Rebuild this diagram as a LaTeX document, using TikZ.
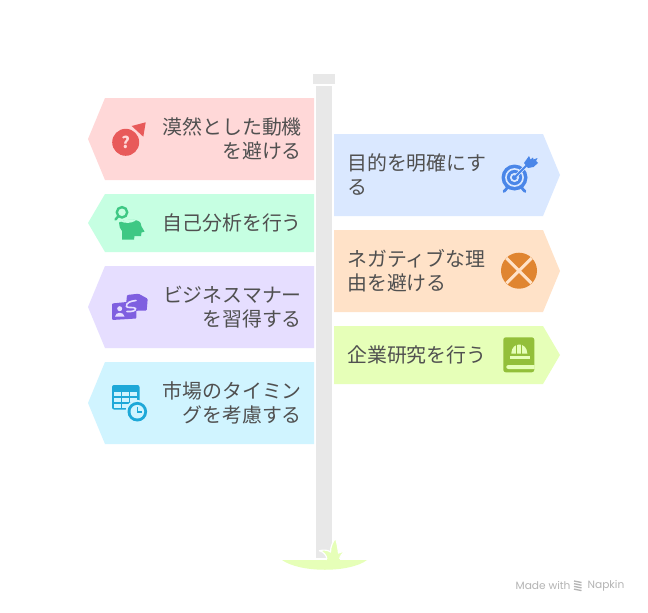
\documentclass[tikz,border=0pt]{standalone}
\usepackage{fontspec}
\setmainfont{Noto Sans CJK JP}
\newfontfamily\wmfont{Poppins}
\definecolor{cRed}{HTML}{FFD8D8}\definecolor{cGrn}{HTML}{C6FFE2}\definecolor{cPur}{HTML}{E6DEFF}
\definecolor{cCya}{HTML}{D0F4FF}\definecolor{cBlu}{HTML}{DAE8FF}\definecolor{cOra}{HTML}{FFE2C8}
\definecolor{cLim}{HTML}{E6FFB8}\definecolor{cPole}{HTML}{E8E8E8}\definecolor{cTxt}{HTML}{505050}
\definecolor{iRed}{HTML}{E85A5A}\definecolor{iGrn}{HTML}{3EC884}\definecolor{iPur}{HTML}{7F5FE0}
\definecolor{iCya}{HTML}{1EA8D8}\definecolor{iBlu}{HTML}{4A86E8}\definecolor{iOra}{HTML}{E08530}
\definecolor{iLim}{HTML}{93BF3A}\definecolor{cWm}{HTML}{B4B4B4}
\tikzset{
 lbl/.style={text=cTxt,inner sep=0pt,font=\fontsize{19.9}{24}\selectfont},
 lblL/.style={lbl,anchor=east,align=right},
 lblR/.style={lbl,anchor=west,align=left}
}
\newcommand{\lplate}[4]{\fill[#1] (314,-#2) -- (105,-#2) -- (88,-#4) -- (105,-#3) -- (314,-#3) -- cycle;}
\newcommand{\rplate}[4]{\fill[#1] (334,-#2) -- (543,-#2) -- (560,-#4) -- (543,-#3) -- (334,-#3) -- cycle;}
\begin{document}
\begin{tikzpicture}[x=1pt,y=1pt]
\useasboundingbox (0,0) rectangle (648,-613);
\fill[white] (0,0) rectangle (648,-613);
% pole
\fill[cPole] (313,-74) rectangle (335,-84);
\fill[cPole] (316,-86) rectangle (332,-557.5);
% grass
\fill[cLim] (282,-560) .. controls (300,-573) and (350,-573) .. (367,-560) -- cycle;
\filldraw[cLim,draw=white,line width=1.2pt,line join=round] (327,-560) .. controls (327,-555) and (323,-551.5) .. (319.3,-550.7)
  .. controls (324,-549.5) and (328,-550) .. (330.5,-552) .. controls (330.5,-546) and (333,-542) .. (335.5,-538)
  .. controls (337,-543) and (338,-548) .. (338.5,-553) .. controls (340,-552) and (343,-551.5) .. (346,-551.5)
  .. controls (342,-553) and (340,-556) .. (339.5,-560);
\fill[cLim] (327,-559) rectangle (339.5,-561);
% plates
\lplate{cRed}{98}{180}{139}
\lplate{cGrn}{194}{252}{223}
\lplate{cPur}{266}{348}{307}
\lplate{cCya}{362}{444}{403}
\rplate{cBlu}{134}{216}{175}
\rplate{cOra}{230}{312}{271}
\rplate{cLim}{326}{384}{355}
% labels
\node[lblL] (t1) at (302,-139) {漠然とした動機\\を避ける};
\node[lblL] (t2) at (302,-223) {自己分析を行う};
\node[lblL] (t3) at (302,-307) {ビジネスマナー\\を習得する};
\node[lblL] (t4) at (302,-403) {市場のタイミン\\グを考慮する};
\node[lblR] (t5) at (347,-175) {目的を明確にす\\る};
\node[lblR] (t6) at (347,-271) {ネガティブな理\\由を避ける};
\node[lblR] (t7) at (347,-355) {企業研究を行う};
% icon 1
\fill[iRed] (125.7,-142.3) circle (13.5);
\fill[iRed] (145.7,-122.3) -- (131.7,-126) -- (143.3,-136.7) -- cycle;
\node[text=cRed,inner sep=0pt,font=\fontsize{16}{16}\selectfont\bfseries] (q1) at (125.7,-142.6) {?};
% icon 2
\draw[iGrn,line width=2.4pt] (122,-212.3) circle (5.2);
\draw[iGrn,line width=2.4pt,line cap=round] (118,-216.6) -- (115.5,-219.5);
\fill[iGrn] (119,-222.5) .. controls (125,-219.5) and (133,-219) .. (137,-220.5) .. controls (140.5,-221.5) and (141.5,-224) .. (141.5,-226.5)
  -- (144.5,-231.5) -- (141.5,-232.5) -- (141,-236) -- (134.5,-236) -- (134,-239.7) -- (122,-239.7)
  -- (122,-231) .. controls (120,-229) and (119,-226) .. (119,-222.5) -- cycle;
\fill[cGrn] (121,-221.5) .. controls (126,-219) and (132,-219) .. (136,-220.5) .. controls (131,-223.5) and (125,-223.5) .. (121,-221.5) -- cycle;
% icon 3
\fill[iPur,rounded corners=1pt] (112,-303.5) -- (136,-301) -- (136.5,-318.5) -- (112,-320) -- cycle;
\fill[iPur,rounded corners=1pt] (127,-295) -- (138.5,-293.7) -- (147.7,-298.7) -- (146.7,-310.7) -- (136.7,-310.7) -- (130,-313) -- (126,-305) -- cycle;
\draw[cPur,line width=1.6pt,line cap=round] (136,-300.5) .. controls (130,-301) and (126,-303) .. (126.5,-306.5) .. controls (127,-308.5) and (134,-306.5) .. (135.5,-308.5)
 .. controls (136.5,-310.5) and (132,-312) .. (127,-311.5);
\fill[cPur] (119.7,-308.7) circle (2.5);
\fill[cPur] (115,-316.5) .. controls (115.5,-311.5) and (124,-311.5) .. (124.5,-316.5) -- cycle;
% icon 4
\fill[iCya,rounded corners=2pt] (112,-385) rectangle (139.5,-409.5);
\foreach \xa/\xb in {114/120.5,122/128.5,130/136.5}{
 \foreach \ya/\yb in {391.5/395.5,397.5/401.5,403.5/407.5}{
  \fill[cCya] (\xa,-\ya) rectangle (\xb,-\yb);}}
\fill[cCya] (137.3,-411.7) circle (11.8);
\fill[iCya] (137.3,-411.7) circle (9.8);
\fill[cCya] (137.3,-411.7) circle (6.8);
\draw[iCya,line width=1.4pt] (137.3,-406.5) -- (137.3,-412) -- (142,-412);
% icon 5 target
\draw[iBlu,line width=2.8pt,line cap=round] (508,-187) -- (504,-191.5);
\draw[iBlu,line width=2.8pt,line cap=round] (521,-187) -- (525,-191.5);
\fill[iBlu] (514.5,-177.5) circle (13);
\fill[cBlu] (514.5,-177.5) circle (9.4);
\fill[iBlu] (514.5,-177.5) circle (7.6);
\fill[cBlu] (514.5,-177.5) circle (4.6);
\fill[iBlu] (514.5,-177.5) circle (2.6);
\draw[cBlu,line width=3.4pt] (515.5,-176.5) -- (526,-166);
\draw[iBlu,line width=2pt] (514.5,-177.5) -- (527,-165);
\fill[iBlu] (524,-163) -- (529,-156) -- (530.5,-159.5) -- (533,-157.5) -- (533.5,-159.5) -- (537.5,-158) -- (536,-161) -- (538,-163) -- (533.5,-167) -- (528,-168) -- cycle;
% icon 6
\fill[iOra] (519,-270.7) circle (18);
\draw[cOra,line width=3pt] (506.5,-258.2) -- (531.5,-283.2);
\draw[cOra,line width=3pt] (531.5,-258.2) -- (506.5,-283.2);
% icon 7
\fill[iLim,rounded corners=2.5pt] (503.3,-337.3) rectangle (534.3,-372.3);
\fill[cLim] (508.5,-365) -- (534.5,-365) -- (534.5,-369) -- (508.5,-369) .. controls (505.5,-369) and (505.5,-365) .. (508.5,-365) -- cycle;
\fill[cLim] (509.7,-356) rectangle (529.7,-358.7);
\fill[cLim] (511.3,-353.5) .. controls (511.5,-341.5) and (527,-341.5) .. (527.3,-353.5) -- cycle;
\fill[iLim] (516.3,-343) rectangle (517.3,-353.5);
\fill[iLim] (521.3,-343) rectangle (522.3,-353.5);
% watermark
\node[text=cWm,inner sep=0pt,anchor=west,font=\wmfont\fontsize{10.6}{12}\selectfont] (wm1) at (515.5,-586) {Made with};
\foreach \yy in {581,583.7,586.4,589.1}{
 \draw[cWm,line width=1.3pt] (574,-\yy) -- (581.5,-\yy-1.5);}
\node[text=cWm,inner sep=0pt,anchor=west,font=\wmfont\fontsize{10.6}{12}\selectfont] (wm2) at (587.5,-586) {Napkin};
\end{tikzpicture}
\end{document}
